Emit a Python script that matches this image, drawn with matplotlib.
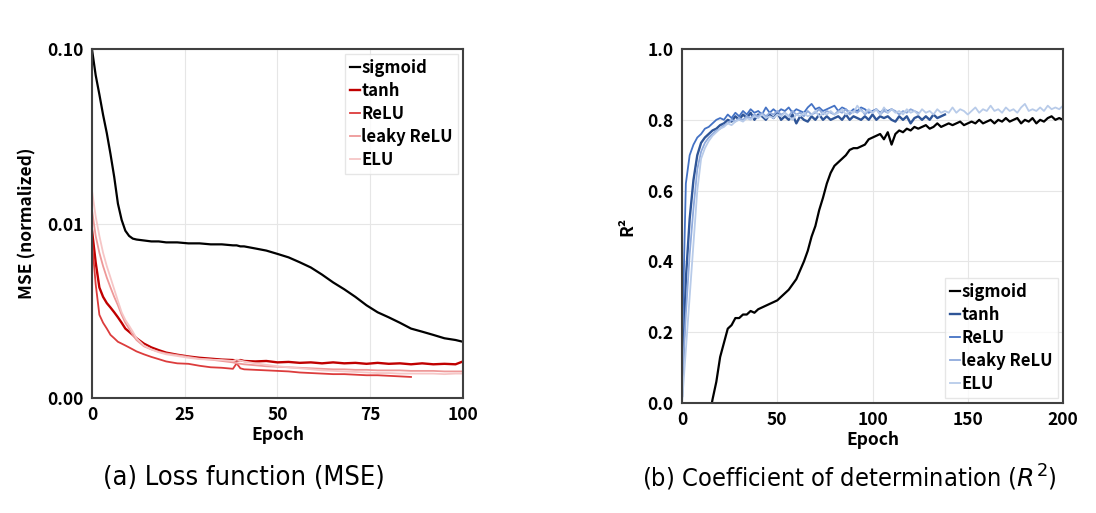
import matplotlib.pyplot as plt
import numpy as np

plt.rcParams['font.family'] = ['Noto Sans CJK KR', 'DejaVu Sans']

# (a) MSE, log scale
mse_epochs = [0, 1, 2, 3, 4, 5, 6, 7, 8, 9, 10, 11, 12, 14, 16, 18, 20, 23, 26, 29, 32, 35, 38, 39, 40, 41,
              44, 47, 50, 53, 56, 59, 62, 65, 68, 71, 74, 77, 80, 83, 86, 89, 92, 95, 98, 100]
mse_sigmoid = [0.1, 0.071, 0.055, 0.042, 0.033, 0.025, 0.0185, 0.013, 0.0105, 0.0091, 0.0085, 0.0082, 0.0081,
               0.0080, 0.0079, 0.0079, 0.0078, 0.0078, 0.0077, 0.0077, 0.0076, 0.0076, 0.0075, 0.0075, 0.0074,
               0.0074, 0.0072, 0.0070, 0.0067, 0.0064, 0.0060, 0.0056, 0.0051, 0.0046, 0.0042, 0.0038, 0.0034,
               0.0031, 0.0029, 0.0027, 0.0025, 0.0024, 0.0023, 0.0022, 0.00215, 0.0021]
mse_tanh = [0.0092, 0.0060, 0.0043, 0.0038, 0.0035, 0.0033, 0.0031, 0.0029, 0.0027, 0.0025, 0.0024, 0.0023, 0.0022,
            0.00205, 0.00195, 0.00188, 0.00182, 0.00177, 0.00173, 0.00170, 0.00168, 0.00166, 0.00165, 0.00164,
            0.00165, 0.00163, 0.00162, 0.00163, 0.00160, 0.00161, 0.00159, 0.00160, 0.00158, 0.00160, 0.00158,
            0.00159, 0.00157, 0.00159, 0.00157, 0.00158, 0.00156, 0.00158, 0.00156, 0.00157, 0.00156, 0.00162]
mse_relu = [0.0080, 0.0045, 0.0030, 0.0027, 0.0025, 0.0023, 0.0022, 0.0021, 0.00205, 0.0020, 0.00195, 0.0019,
            0.00185, 0.00178, 0.00172, 0.00167, 0.00162, 0.00158, 0.00157, 0.00153, 0.00150, 0.00149, 0.00147,
            0.00158, 0.00148, 0.00146, 0.00145, 0.00144, 0.00143, 0.00142, 0.00140, 0.00139, 0.00138, 0.00137,
            0.00137, 0.00136, 0.00135, 0.00135, 0.00134, 0.00133, 0.00132]
mse_leaky = [0.012, 0.0085, 0.0068, 0.0057, 0.0049, 0.0043, 0.0038, 0.0034, 0.0030, 0.0027, 0.0025, 0.0023,
             0.00215, 0.00198, 0.00190, 0.00184, 0.00180, 0.00176, 0.00172, 0.00168, 0.00166, 0.00163, 0.00160,
             0.00158, 0.00157, 0.00156, 0.00154, 0.00152, 0.00151, 0.00150, 0.00149, 0.00148, 0.00147, 0.00146,
             0.00146, 0.00145, 0.00145, 0.00144, 0.00144, 0.00144, 0.00143, 0.00143, 0.00143, 0.00142, 0.00142,
             0.00142]
mse_elu = [0.0155, 0.011, 0.0085, 0.0068, 0.0057, 0.0049, 0.0042, 0.0036, 0.0031, 0.0028, 0.0026, 0.0024, 0.0022,
           0.00200, 0.00190, 0.00183, 0.00178, 0.00174, 0.00170, 0.00167, 0.00166, 0.00165, 0.00163, 0.00166,
           0.00164, 0.00162, 0.00158, 0.00155, 0.00152, 0.00150, 0.00148, 0.00146, 0.00144, 0.00143, 0.00142,
           0.00141, 0.00140, 0.00139, 0.00139, 0.00138, 0.00138, 0.00138, 0.00138, 0.00137, 0.00138, 0.00138]

# (b) R^2, every 2 epochs
r2_epochs = list(range(0, 201, 2))
r2_sigmoid = [-0.5, -0.4, -0.3, -0.25, -0.2, -0.15, -0.1, -0.05, 0.01, 0.06, 0.13, 0.17, 0.21, 0.22, 0.24, 0.24,
              0.25, 0.25, 0.26, 0.255, 0.265, 0.27, 0.275, 0.28, 0.285, 0.29, 0.30, 0.31, 0.32, 0.335, 0.35, 0.375,
              0.40, 0.43, 0.47, 0.50, 0.545, 0.58, 0.62, 0.65, 0.67, 0.68, 0.69, 0.70, 0.715, 0.72, 0.72, 0.725,
              0.73, 0.745, 0.75, 0.755, 0.76, 0.745, 0.765, 0.73, 0.76, 0.77, 0.765, 0.775, 0.77, 0.78, 0.775, 0.78,
              0.785, 0.775, 0.78, 0.79, 0.78, 0.785, 0.79, 0.785, 0.79, 0.795, 0.785, 0.79, 0.795, 0.79, 0.80, 0.79,
              0.795, 0.80, 0.79, 0.80, 0.795, 0.805, 0.795, 0.80, 0.805, 0.79, 0.80, 0.795, 0.805, 0.79, 0.80,
              0.795, 0.805, 0.81, 0.80, 0.805, 0.80]
r2_tanh = [0.02, 0.35, 0.52, 0.63, 0.70, 0.735, 0.75, 0.76, 0.77, 0.775, 0.785, 0.79, 0.80, 0.795, 0.81, 0.80,
           0.815, 0.805, 0.82, 0.80, 0.815, 0.81, 0.80, 0.815, 0.805, 0.82, 0.80, 0.81, 0.80, 0.815, 0.79, 0.81,
           0.80, 0.795, 0.81, 0.80, 0.815, 0.80, 0.81, 0.80, 0.805, 0.81, 0.80, 0.815, 0.80, 0.81, 0.805, 0.80,
           0.81, 0.80, 0.815, 0.80, 0.81, 0.805, 0.81, 0.80, 0.795, 0.81, 0.80, 0.81, 0.79, 0.805, 0.81, 0.80,
           0.81, 0.80, 0.815, 0.805, 0.81, 0.815]
r2_relu = [0.15, 0.62, 0.70, 0.73, 0.75, 0.76, 0.775, 0.78, 0.79, 0.80, 0.805, 0.80, 0.815, 0.805, 0.82, 0.81,
           0.825, 0.815, 0.83, 0.82, 0.825, 0.815, 0.835, 0.82, 0.83, 0.82, 0.83, 0.825, 0.835, 0.82, 0.83, 0.825,
           0.82, 0.835, 0.845, 0.83, 0.835, 0.825, 0.83, 0.835, 0.84, 0.825, 0.835, 0.83, 0.82, 0.83, 0.825, 0.835,
           0.83, 0.82, 0.825, 0.83, 0.82, 0.83, 0.825, 0.83]
r2_leaky = [0.05, 0.25, 0.42, 0.55, 0.66, 0.71, 0.735, 0.75, 0.76, 0.77, 0.775, 0.785, 0.79, 0.80, 0.795, 0.805,
            0.80, 0.81, 0.805, 0.815, 0.81, 0.82, 0.81, 0.82, 0.815, 0.825, 0.815, 0.82, 0.81, 0.825, 0.815, 0.82,
            0.81, 0.825, 0.815, 0.82, 0.83, 0.815, 0.825, 0.82, 0.815, 0.825, 0.82, 0.83, 0.815, 0.825, 0.82, 0.83,
            0.815, 0.825, 0.82, 0.83, 0.815, 0.825, 0.82, 0.83, 0.825, 0.815, 0.825, 0.82, 0.83, 0.825, 0.82]
r2_elu = [0.0, 0.15, 0.30, 0.45, 0.60, 0.69, 0.72, 0.74, 0.755, 0.765, 0.775, 0.78, 0.79, 0.785, 0.795, 0.80,
          0.795, 0.805, 0.80, 0.81, 0.805, 0.815, 0.805, 0.81, 0.805, 0.815, 0.81, 0.82, 0.81, 0.80, 0.815, 0.81,
          0.82, 0.81, 0.815, 0.825, 0.81, 0.82, 0.815, 0.825, 0.815, 0.82, 0.83, 0.815, 0.825, 0.82, 0.84, 0.825,
          0.82, 0.83, 0.82, 0.83, 0.815, 0.835, 0.82, 0.83, 0.82, 0.825, 0.815, 0.83, 0.82, 0.825, 0.815, 0.83,
          0.82, 0.825, 0.815, 0.83, 0.82, 0.825, 0.82, 0.835, 0.82, 0.83, 0.825, 0.815, 0.825, 0.835, 0.82, 0.83,
          0.825, 0.84, 0.825, 0.83, 0.82, 0.835, 0.825, 0.83, 0.82, 0.835, 0.845, 0.825, 0.83, 0.825, 0.835,
          0.825, 0.84, 0.83, 0.835, 0.83, 0.84]

names = ['sigmoid', 'tanh', 'ReLU', 'leaky ReLU', 'ELU']
reds = ['black', '#C00000', '#DC3C3C', '#EE9898', '#F6C6C6']
blues = ['black', '#2F5597', '#4472C4', '#8FAADC', '#B8CBE9']
widths = [1.6, 1.7, 1.3, 1.3, 1.3]

fig = plt.figure(figsize=(10.96, 5.13), dpi=100)
ax1 = fig.add_axes([0.0839, 0.2242, 0.3385, 0.680])
ax2 = fig.add_axes([0.6223, 0.2144, 0.3476, 0.690])

mse_series = [mse_sigmoid, mse_tanh, mse_relu, mse_leaky, mse_elu]
for i in range(5):
    ys = mse_series[i]
    ax1.plot(mse_epochs[:len(ys)], ys, color=reds[i], lw=widths[i], label=names[i])
ax1.set_yscale('log')
ax1.set_ylim(0.001, 0.1)
ax1.set_xlim(0, 100)
ax1.set_xticks([0, 25, 50, 75, 100])
ax1.set_yticks([0.001, 0.01, 0.1])
ax1.set_yticklabels(['0.00', '0.01', '0.10'])
ax1.minorticks_off()
ax1.set_xlabel('Epoch', fontsize=12.5, fontweight='bold', labelpad=1)
ax1.set_ylabel('MSE (normalized)', fontsize=12.5, fontweight='bold', labelpad=8)

r2_series = [r2_sigmoid, r2_tanh, r2_relu, r2_leaky, r2_elu]
for i in range(5):
    ys = r2_series[i]
    ax2.plot(r2_epochs[:len(ys)], ys, color=blues[i], lw=widths[i], label=names[i])
ax2.set_ylim(0, 1)
ax2.set_xlim(0, 200)
ax2.set_xticks([0, 50, 100, 150, 200])
ax2.set_yticks([0, 0.2, 0.4, 0.6, 0.8, 1.0])
ax2.set_yticklabels(['0.0', '0.2', '0.4', '0.6', '0.8', '1.0'])
ax2.set_xlabel('Epoch', fontsize=12.5, fontweight='bold', labelpad=1)
ax2.set_ylabel('R²', fontsize=12.5, fontweight='bold', labelpad=8)

for ax in (ax1, ax2):
    ax.grid(True, color='#e6e6e6', lw=0.8)
    ax.set_axisbelow(True)
    ax.tick_params(length=0, labelsize=12.5, pad=6)
    for lab in ax.get_xticklabels() + ax.get_yticklabels():
        lab.set_fontweight('bold')
    for s in ax.spines.values():
        s.set_color('#404040')
        s.set_linewidth(1.5)

leg1 = ax1.legend(loc='upper right', handlelength=0.6, handletextpad=0.1, labelspacing=0.3,
                  fancybox=False, edgecolor='#e0e0e0', borderaxespad=0.3, borderpad=0.3,
                  prop={'size': 12, 'weight': 'bold'})
leg2 = ax2.legend(loc='lower right', handlelength=0.6, handletextpad=0.1, labelspacing=0.3,
                  fancybox=False, edgecolor='#e0e0e0', borderaxespad=0.3, borderpad=0.3,
                  prop={'size': 12, 'weight': 'bold'})

fig.text(0.2226, 0.068, '(a) Loss function (MSE)', ha='center', va='center', fontsize=19.5,
         family='DejaVu Sans', fontstretch='condensed')
fig.text(0.7746, 0.068, r'(b) Coefficient of determination ($R^2$)', ha='center', va='center', fontsize=18.2,
         family='DejaVu Sans', fontstretch='condensed')

fig.savefig('out.png', dpi=100)
